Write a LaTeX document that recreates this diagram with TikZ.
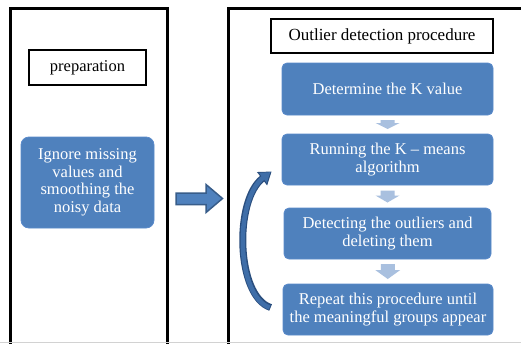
\documentclass[tikz,border=0pt]{standalone}
\usepackage{fontspec}
\setmainfont{Liberation Serif}
\usetikzlibrary{arrows.meta,calc}
\definecolor{boxblue}{HTML}{4F81BD}
\definecolor{boxedge}{HTML}{5A8ACB}
\definecolor{lightarr}{HTML}{A9C0DF}
\definecolor{arrdark}{HTML}{385D8A}
\definecolor{curvefill}{HTML}{3F6EA8}
\definecolor{curveedge}{HTML}{2A4E7E}
\begin{document}
\begin{tikzpicture}[x=1pt,y=-1pt,
  panel/.style={line width=3pt,black},
  labelbox/.style={draw=black,line width=1.6pt,fill=white,inner sep=0pt,align=center,
     font=\fontsize{16.5}{18}\selectfont},
  stepbox/.style={draw=boxedge,line width=0.8pt,fill=boxblue,rounded corners=5pt,inner sep=0pt,
     text=white,align=center,font=\fontsize{16.5}{17.5}\selectfont},
  downarr/.style={fill=lightarr},
]
\useasboundingbox (0,0) rectangle (521,343);
\clip (0,0) rectangle (521,343);
\fill[white] (0,0) rectangle (521,343);
% panels
\draw[panel] (10,345) -- (10,8) -- (167,8) -- (167,345);
\draw[panel] (228,345) -- (228,8) -- (530,8);
\draw[gray!35,line width=0.8pt] (0,342) -- (521,342);
% left side
\node[labelbox,minimum width=117,minimum height=35] (prep) at (87.5,67.5) {preparation};
\node[stepbox,minimum width=133,minimum height=91,rounded corners=8pt] (ign) at (87.5,182.5)
  {Ignore missing\\values and\\smoothing the\\noisy data};
% right side
\node[labelbox,minimum width=222,minimum height=34,font=\fontsize{17}{18}\selectfont] (title) at (382,36) {Outlier detection procedure};
\node[stepbox,minimum width=211,minimum height=52] (b1) at (387.5,89) {Determine the K value};
\node[stepbox,minimum width=211,minimum height=51] (b2) at (387.5,159.5) {Running the K -- means\\algorithm};
\node[stepbox,minimum width=207,minimum height=51] (b3) at (387.5,233.5) {Detecting the outliers and\\deleting them};
\node[stepbox,minimum width=210,minimum height=51] (b4) at (388,309.5) {Repeat this procedure until\\the meaningful groups appear};
% down block arrows
\coordinate (a1) at ($(b1.south)!0.5!(b2.north)$);
\coordinate (a2) at ($(b2.south)!0.5!(b3.north)$);
\coordinate (a3) at ($(b3.south)!0.5!(b4.north)$);
\fill[downarr] ($(a1)+(-7,-4.5)$) -- ++(14,0) -- ++(0,3) -- ++(5,0) -- ($(a1)+(0,4.5)$) -- ($(a1)+(-12,-1.5)$) -- ++(5,0) -- cycle;
\fill[downarr] ($(a2)+(-7,-6)$) -- ++(14,0) -- ++(0,5) -- ++(5,0) -- ($(a2)+(0,6)$) -- ($(a2)+(-12,-1)$) -- ++(5,0) -- cycle;
\fill[downarr] ($(a3)+(-7,-7.5)$) -- ++(14,0) -- ++(0,6) -- ++(5.5,0) -- ($(a3)+(0,7.5)$) -- ($(a3)+(-12.5,-1.5)$) -- ++(5.5,0) -- cycle;
% big right arrow
\filldraw[fill=boxblue,draw=arrdark,line width=1.5pt,line join=miter]
  (176,193) -- (206,193) -- (206,184.5) -- (222.5,198.5) -- (206,212.5) -- (206,204.5) -- (176,204.5) -- cycle;
% curved loop arrow
\coordinate (cs) at ($(b4.west)+(-12,-2)$);
\coordinate (ce) at ($(b2.west)+(-10,12)$);
\draw[curveedge,line width=7pt,-{Triangle[length=12pt,width=16pt]}]
  (cs) .. controls (236,296) and (234,200) .. (ce);
\draw[curvefill,line width=4.5pt,-{Triangle[length=9.5pt,width=12pt]}]
  ($(cs)+(-1,0)$) .. controls (236,296) and (234,200) .. ($(ce)+(-1.2,0.6)$);
\end{tikzpicture}
\end{document}
